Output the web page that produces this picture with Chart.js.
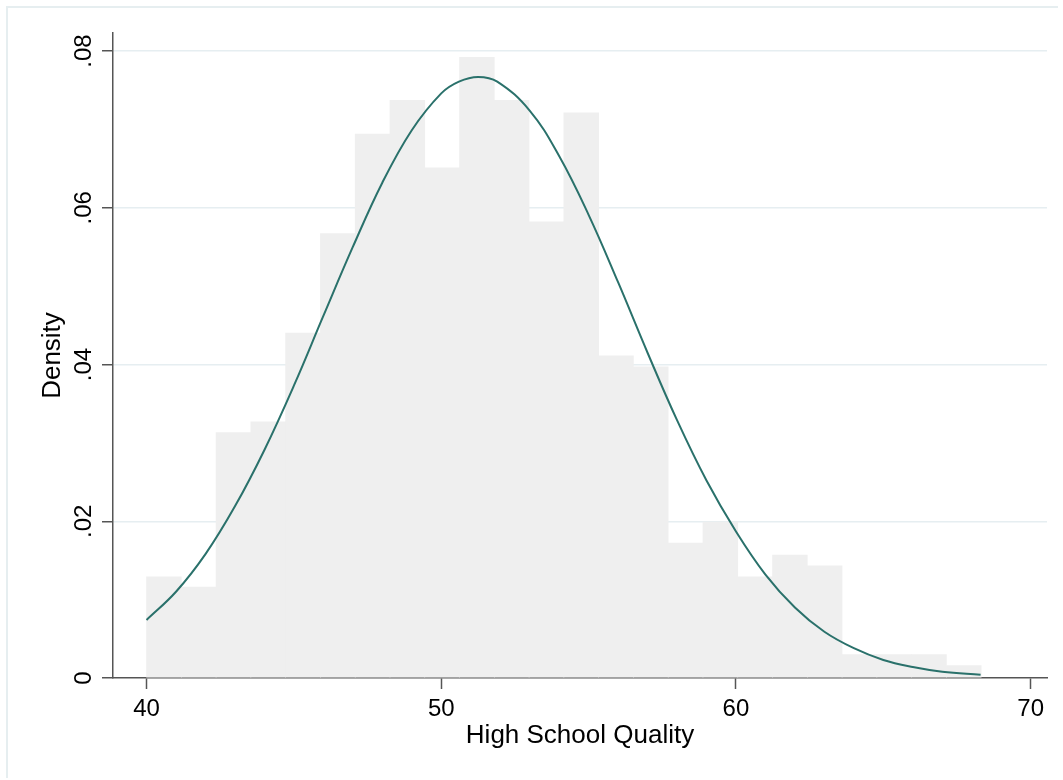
<!DOCTYPE html>
<html lang="en">
  <head>
    <meta charset="utf-8" />
    <title>High School Quality histogram</title>
    <style>
      * {
        margin: 0;
        padding: 0;
      }
      body {
        background: white;
        overflow: hidden;
      }
      .frame {
        position: absolute;
        left: 6px;
        top: 6px;
        width: 1050px;
        height: 770px;
        border-top: 2px solid #e6eef0;
        border-left: 2px solid #e6eef0;
      }
      .chartBox {
        position: absolute;
        left: 0;
        top: 0;
        width: 1063px;
        height: 780px;
      }
    </style>
  </head>
  <body>
    <div class="frame"></div>
    <div class="chartBox">
      <canvas id="myChart"></canvas>
    </div>

    <script src="https://cdn.jsdelivr.net/npm/chart.js"></script>

    <script>
      // histogram bins (centres), width 1.18
      const binCenters = [
        40.59, 41.77, 42.95, 44.13, 45.31, 46.49, 47.67, 48.85, 50.03, 51.21,
        52.39, 53.57, 54.75, 55.93, 57.11, 58.29, 59.47, 60.65, 61.83, 63.01,
        64.19, 65.37, 66.55, 67.73,
      ];
      const binDensity = [
        0.0129, 0.0116, 0.0313, 0.0327, 0.044, 0.0567, 0.0694, 0.0737, 0.0651,
        0.0792, 0.0737, 0.0582, 0.0721, 0.0411, 0.0397, 0.0172, 0.0199, 0.0129,
        0.0157, 0.0143, 0.003, 0.003, 0.003, 0.0016,
      ];

      // normal density curve
      const curveX = [
        40, 41, 42, 43, 44, 45, 46, 47, 48, 49, 50, 50.6, 51.25, 51.9, 53, 54,
        55, 56, 57, 58, 59, 60, 61, 62, 63, 64, 65, 66, 67, 68.3,
      ];
      const curveY = [
        0.0074, 0.011, 0.0158, 0.0219, 0.0291, 0.0373, 0.0462, 0.055, 0.0632,
        0.0699, 0.0746, 0.0761, 0.0767, 0.0761, 0.0724, 0.0666, 0.0591, 0.0505,
        0.0415, 0.0329, 0.0252, 0.0187, 0.0132, 0.009, 0.0059, 0.0038, 0.0023,
        0.0014, 0.0008, 0.0004,
      ];

      const xTicks = [40, 50, 60, 70];
      const yTicks = [0, 0.02, 0.04, 0.06, 0.08];
      const yTickLabels = ["0", ".02", ".04", ".06", ".08"];

      const axisColor = "#555555";
      const font = "'Liberation Sans', Arial, sans-serif";

      const data = {
        datasets: [
          {
            type: "line",
            label: "Normal density",
            data: curveX.map((x, i) => ({ x: x, y: curveY[i] })),
            borderColor: "#2a716b",
            borderWidth: 2,
            pointRadius: 0,
            tension: 0.4,
            fill: false,
            order: 1,
          },
          {
            type: "bar",
            label: "Density",
            data: binCenters.map((x, i) => ({ x: x, y: binDensity[i] })),
            backgroundColor: "#efefef",
            borderWidth: 0,
            barPercentage: 1,
            categoryPercentage: 1,
            order: 2,
          },
        ],
      };

      const config = {
        type: "bar",
        data: data,
        options: {
          responsive: true,
          maintainAspectRatio: false,
          animation: false,
          layout: {
            padding: { top: 33, right: 16, left: 0, bottom: 0 },
          },
          plugins: {
            legend: { display: false },
            tooltip: { enabled: false },
          },
          scales: {
            x: {
              type: "linear",
              offset: false,
              min: 38.863,
              max: 70.553,
              afterFit: (s) => {
                s.height = 102;
              },
              afterBuildTicks: (s) => {
                s.ticks = xTicks.map((v) => ({ value: v }));
              },
              grid: {
                offset: false,
                drawOnChartArea: false,
                drawTicks: true,
                tickLength: 11,
                tickColor: axisColor,
                tickWidth: 1.5,
              },
              border: { display: true, color: axisColor, width: 1.5 },
              ticks: {
                autoSkip: false,
                maxRotation: 0,
                padding: 5.5,
                color: "#000",
                font: { family: font, size: 24 },
              },
              title: {
                display: true,
                text: "High School Quality",
                color: "#000",
                font: { family: font, size: 26 },
                padding: { top: 0, bottom: 28.5 },
              },
            },
            y: {
              type: "linear",
              min: 0,
              max: 0.0823,
              afterFit: (s) => {
                s.width = 113;
              },
              afterBuildTicks: (s) => {
                s.ticks = yTicks.map((v) => ({ value: v }));
              },
              grid: {
                color: (ctx) => (ctx.tick && ctx.tick.value === 0 ? "rgba(0,0,0,0)" : "#e6eef1"),
                lineWidth: 1.5,
                drawTicks: true,
                tickLength: 11,
                tickColor: axisColor,
                tickWidth: 1.5,
              },
              border: { display: true, color: axisColor, width: 1.5 },
              ticks: {
                autoSkip: false,
                minRotation: 90,
                maxRotation: 90,
                crossAlign: "center",
                padding: 1,
                color: "#000",
                font: { family: font, size: 24 },
                callback: (value, index) => yTickLabels[index],
              },
              title: {
                display: true,
                text: "Density",
                color: "#000",
                font: { family: font, size: 26 },
                padding: { top: 37, bottom: 0 },
              },
            },
          },
        },
      };

      const myChart = new Chart(document.getElementById("myChart"), config);
    </script>
  </body>
</html>
